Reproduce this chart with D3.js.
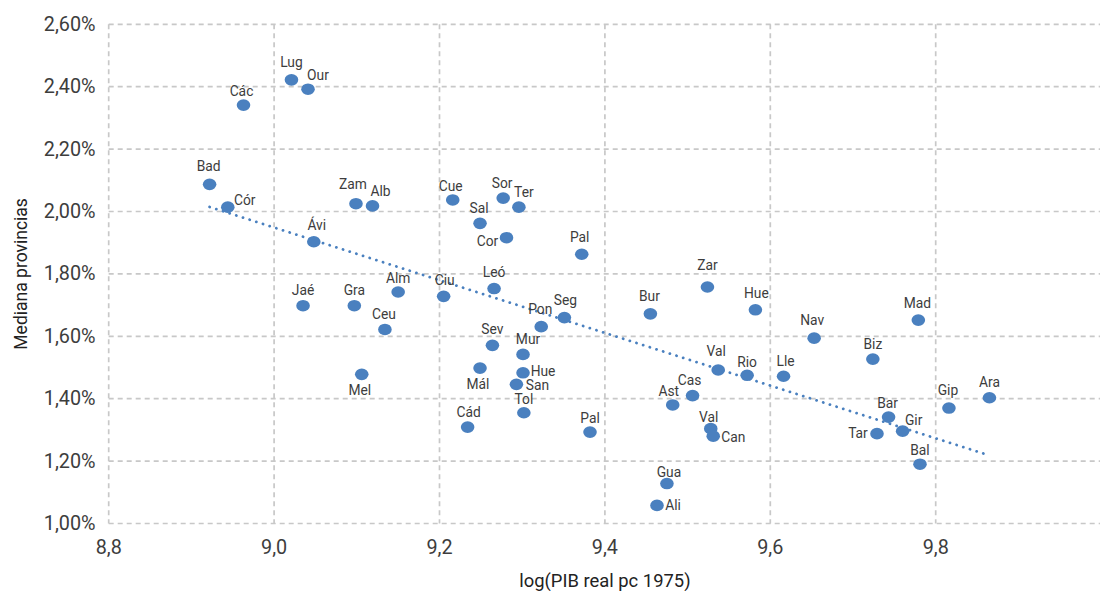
<!DOCTYPE html>
<html>
<head>
<meta charset="utf-8">
<script src="https://cdn.jsdelivr.net/npm/d3@7"></script>
<style>
  html, body { margin: 0; padding: 0; background: #fff; }
  svg { display: block; font-family: Roboto, "Liberation Sans", sans-serif; }
</style>
</head>
<body>
<svg id="chart" width="1100" height="591"></svg>
<script>
// ---- data ----
const provinces = ["Lug","Our","Các","Bad","Cór","Zam","Alb","Ávi","Cue","Sor","Ter","Sal","Cor","Alm","Ciu","Leó",
  "Pal","Pon","Seg","Sev","Mur","Mál","Hue","San","Tol","Cád","Pal","Jaé","Gra","Ceu","Mel",
  "Bur","Zar","Hue","Mad","Nav","Biz","Val","Rio","Lle","Cas","Ast","Gip","Ara","Bar","Gir","Tar","Val","Can","Bal","Gua","Ali"];
const logPIB = [9.021,9.041,8.963,8.922,8.944,9.099,9.119,9.048,9.216,9.277,9.296,9.249,9.281,9.150,9.205,9.266,
  9.372,9.323,9.351,9.264,9.301,9.249,9.301,9.293,9.302,9.234,9.382,9.035,9.097,9.134,9.106,
  9.455,9.524,9.582,9.779,9.653,9.724,9.537,9.572,9.616,9.506,9.482,9.816,9.865,9.743,9.760,9.729,9.528,9.531,9.781,9.475,9.463];
const mediana = [2.422,2.392,2.341,2.087,2.014,2.025,2.018,1.903,2.037,2.043,2.014,1.962,1.916,1.742,1.728,1.753,
  1.863,1.631,1.660,1.571,1.542,1.498,1.483,1.446,1.355,1.309,1.293,1.698,1.698,1.622,1.478,
  1.672,1.758,1.685,1.652,1.594,1.527,1.492,1.475,1.472,1.410,1.380,1.370,1.403,1.341,1.296,1.288,1.304,1.280,1.190,1.128,1.058];
const xTicks = [8.8, 9.0, 9.2, 9.4, 9.6, 9.8];
const yTicks = [1.0, 1.2, 1.4, 1.6, 1.8, 2.0, 2.2, 2.4, 2.6];
const xTitle = "log(PIB real pc 1975)";
const yTitle = "Mediana provincias";

// label placement offsets (px) relative to each marker
const labelDx = [0,10,-2,-1,17,-3,8,3,-2,-1,5,-1,-19,0,1,0,
  -2,-1,1,0,5,-2,20,21,0,1,0,0,0,-1,-2,
  -1,0,1,-1,-2,0,-2,0,2,-3,-4,-1,0,-1,11,-19,-2,20,0,2,16];
const labelDy = [-18,-14,-14,-18,-7,-20,-15,-17,-14,-15,-15,-15,3,-14,-16,-17,
  -17,-18,-18,-16,-15,16,-2,1,-14,-15,-14,-16,-16,-15,16,
  -18,-22,-17,-17,-18,-15,-19,-13,-15,-16,-14,-18,-16,-14,-11,-1,-12,1,-14,-12,0];

// ---- layout ----
const svg = d3.select("#chart");
const pLeft = 108.7, pRight = 1101.1, pTop = 24.3, pBottom = 523.5;
const x = d3.scaleLinear().domain([8.8, 10.0]).range([pLeft, pRight]);
const y = d3.scaleLinear().domain([1.0, 2.6]).range([pBottom, pTop]);
const loc = d3.formatLocale({decimal: ",", thousands: ".", grouping: [3], currency: ["", "€"]});
const fy = v => loc.format(".2f")(v) + "%";
const fx = loc.format(".1f");

const gridColor = "#c8c8c8";
const textColor = "#3d3d3d";
const blue = "#4a80bf";

// gridlines
svg.append("g").selectAll("line").data(yTicks).join("line")
  .attr("x1", pLeft).attr("x2", pRight)
  .attr("y1", d => y(d)).attr("y2", d => y(d))
  .attr("stroke", gridColor).attr("stroke-width", 1.7).attr("stroke-dasharray", "5,4");
svg.append("g").selectAll("line").data(xTicks).join("line")
  .attr("x1", d => x(d)).attr("x2", d => x(d))
  .attr("y1", pTop).attr("y2", pBottom)
  .attr("stroke", gridColor).attr("stroke-width", 1.7).attr("stroke-dasharray", "5,4");

// tick labels
svg.append("g").selectAll("text").data(yTicks).join("text")
  .attr("x", 95.5).attr("y", d => y(d))
  .attr("text-anchor", "end").attr("dominant-baseline", "central")
  .attr("font-size", 19.8).attr("fill", textColor)
  .text(fy);
svg.append("g").selectAll("text").data(xTicks).join("text")
  .attr("x", d => x(d)).attr("y", 547)
  .attr("text-anchor", "middle").attr("dominant-baseline", "central")
  .attr("font-size", 19.8).attr("fill", textColor)
  .text(fx);

// axis titles
svg.append("text")
  .attr("x", (pLeft + pRight) / 2).attr("y", 580)
  .attr("text-anchor", "middle").attr("dominant-baseline", "central")
  .attr("font-size", 18.4).attr("fill", "#222")
  .text(xTitle);
svg.append("text")
  .attr("transform", `translate(20.5, ${(pTop + pBottom) / 2}) rotate(-90)`)
  .attr("text-anchor", "middle").attr("dominant-baseline", "central")
  .attr("font-size", 17.5).attr("fill", "#222")
  .text(yTitle);

// linear trend (least squares)
const n = logPIB.length;
const mx = d3.mean(logPIB), my = d3.mean(mediana);
let sxy = 0, sxx = 0;
for (let i = 0; i < n; i++) { sxy += (logPIB[i] - mx) * (mediana[i] - my); sxx += (logPIB[i] - mx) ** 2; }
const slope = sxy / sxx, intercept = my - slope * mx;
const [xmin, xmax] = d3.extent(logPIB);
svg.append("line")
  .attr("x1", x(xmin)).attr("y1", y(intercept + slope * xmin))
  .attr("x2", x(xmax)).attr("y2", y(intercept + slope * xmax))
  .attr("stroke", blue).attr("stroke-width", 2.8)
  .attr("stroke-linecap", "round").attr("stroke-dasharray", "0.1,6.9");

// points
const pts = provinces.map((p, i) => ({name: p, x: logPIB[i], y: mediana[i], dx: labelDx[i], dy: labelDy[i]}));
svg.append("g").selectAll("ellipse").data(pts).join("ellipse")
  .attr("cx", d => x(d.x)).attr("cy", d => y(d.y))
  .attr("rx", 6.8).attr("ry", 5.8)
  .attr("fill", blue);

// labels
svg.append("g").selectAll("text").data(pts).join("text")
  .attr("x", d => x(d.x) + d.dx).attr("y", d => y(d.y) + d.dy)
  .attr("text-anchor", "middle").attr("dominant-baseline", "central")
  .attr("font-size", 13.8).attr("fill", textColor)
  .text(d => d.name);
</script>
</body>
</html>
